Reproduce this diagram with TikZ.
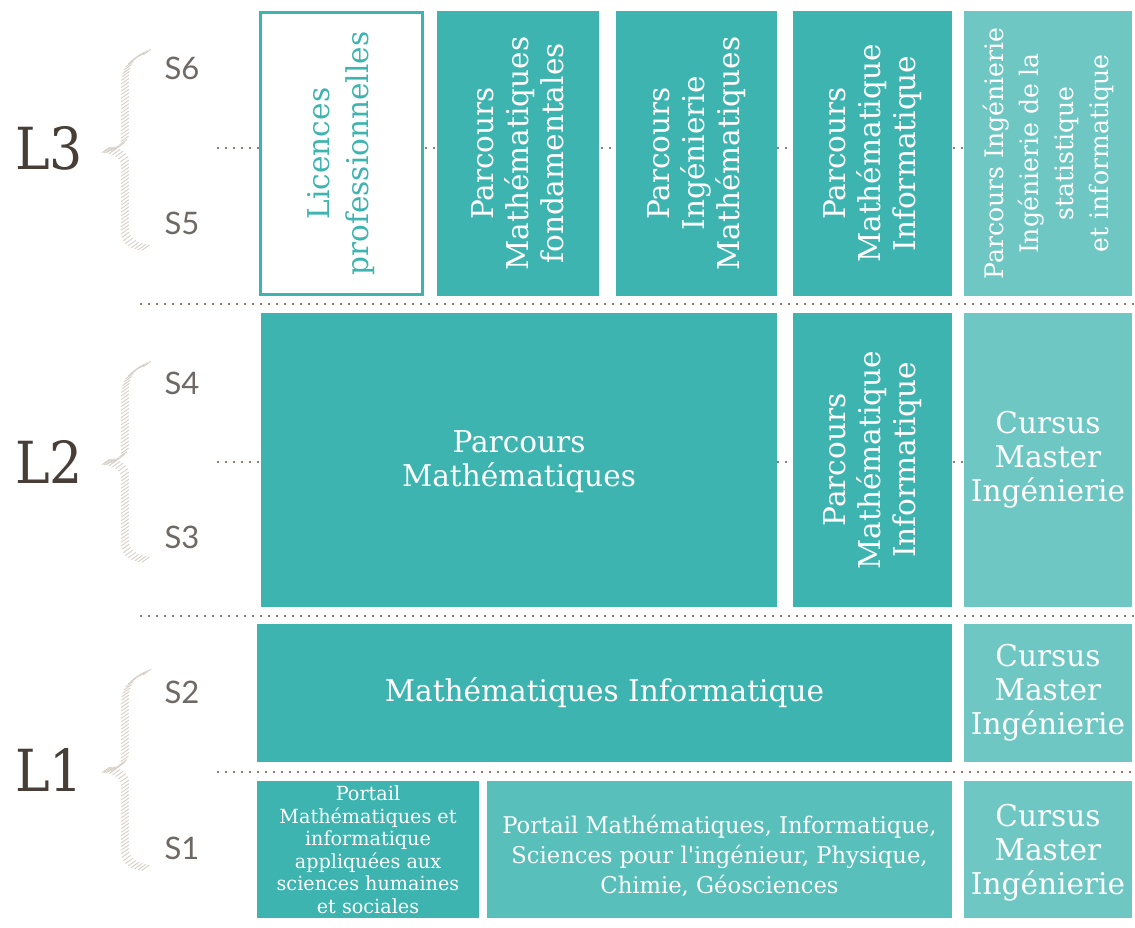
\documentclass[tikz,border=0pt]{standalone}
\usepackage{fontspec}
\setmainfont{DejaVu Serif}[FakeStretch=0.985]
\newfontfamily\narrowfont{DejaVu Serif}[FakeStretch=0.9]
\newfontfamily\semfont{Lato}
\usetikzlibrary{decorations.markings}
\definecolor{tealA}{HTML}{3DB4AF}
\definecolor{tealB}{HTML}{58BFBB}
\definecolor{tealC}{HTML}{6EC7C3}
\definecolor{dotc}{HTML}{8F7F74}
\definecolor{lvlc}{HTML}{463E37}
\definecolor{semc}{HTML}{6F6965}
\definecolor{hatchc}{HTML}{D8D0C8}
\begin{document}
\begin{tikzpicture}[x=1pt,y=-1pt,
 cell/.style={inner sep=0pt, outer sep=0pt},
 darkcell/.style={cell, fill=tealA},
 midcell/.style={cell, fill=tealB},
 lightcell/.style={cell, fill=tealC},
 boxtext/.style={text=white, align=center, font=\fontsize{30}{35}\selectfont, inner sep=0pt},
 vtext/.style={boxtext, rotate=90},
 dotline/.style={draw=dotc, line width=1.6pt, dash pattern=on 1.8pt off 6.2pt, line cap=butt},
 level/.style={text=lvlc, font=\narrowfont\fontsize{58}{58}\selectfont, inner sep=0pt},
 sem/.style={text=semc, font=\semfont\fontsize{31}{31}\selectfont, inner sep=0pt},
 hatchbrace/.style={decoration={markings, mark=between positions 0 and 1 step 3.6pt with {\pgftransformresetnontranslations \draw[hatchc, line width=0.9pt] (-3.8,2.7)--(3.8,-2.7);}}, decorate}
]
\useasboundingbox (0,0) rectangle (1135,928);
\fill[white] (0,0) rectangle (1135,928);

% dotted guide lines
\coordinate (d1a) at (140,304); \coordinate (d1b) at (1135,304);
\coordinate (d2a) at (140,616); \coordinate (d2b) at (1135,616);
\coordinate (m3a) at (217,148); \coordinate (m3b) at (1135,148);
\coordinate (m2a) at (217,462); \coordinate (m2b) at (1135,462);
\coordinate (m1a) at (217,772); \coordinate (m1b) at (1135,772);
\draw[dotline] (d1a) -- (d1b);
\draw[dotline] (d2a) -- (d2b);
\draw[dotline] (m3a) -- (m3b);
\draw[dotline] (m2a) -- (m2b);
\draw[dotline] (m1a) -- (m1b);

% braces
\foreach \c in {150,462,770}{
\path[hatchbrace, shift={(0,\c)}] (147,-98) .. controls (130,-92) and (125,-82) .. (125,-68) -- (125,-14) .. controls (125,-5) and (116,0) .. (105,0) .. controls (116,0) and (125,5) .. (125,14) -- (125,80) .. controls (125,90) and (132,96) .. (147,98);
}

% level labels
\node[level] (L3) at (49,148) {L3};
\node[level] (L2) at (49,462) {L2};
\node[level] (L1) at (49,770) {L1};
\node[sem] (S6) at (182,68) {S6};
\node[sem] (S5) at (182,223) {S5};
\node[sem] (S4) at (182,383) {S4};
\node[sem] (S3) at (182,537) {S3};
\node[sem] (S2) at (182,692) {S2};
\node[sem] (S1) at (182,848) {S1};

% L3 row
\node[cell, draw=tealA, line width=3pt, fill=white, minimum width=162pt, minimum height=282pt] (lic) at (341.5,153.5) {};
\node[vtext, text=tealA, font=\fontsize{30}{39}\selectfont] (lic-t) at (lic) {Licences\\professionnelles};
\node[darkcell, minimum width=162pt, minimum height=285pt] (pmf) at (518,153.5) {};
\node[vtext] (pmf-t) at (pmf) {Parcours\\Mathématiques\\fondamentales};
\node[darkcell, minimum width=161pt, minimum height=285pt] (pim) at (696.5,153.5) {};
\node[vtext] (pim-t) at (pim) {Parcours\\Ingénierie\\Mathématiques};
\node[darkcell, minimum width=159pt, minimum height=285pt] (pmi3) at (872.5,153.5) {};
\node[vtext] (pmi3-t) at (pmi3) {Parcours\\Mathématique\\Informatique};
\node[lightcell, minimum width=168pt, minimum height=285pt] (pii) at (1048,153.5) {};
\node[vtext, font=\fontsize{25.5}{35}\selectfont] (pii-t) at (pii) {Parcours Ingénierie\\Ingénierie de la\\statistique\\et informatique};

% L2 row
\node[darkcell, minimum width=516pt, minimum height=294pt] (pm) at (519,460) {};
\node[boxtext, font=\fontsize{30}{34}\selectfont] (pm-t) at ([yshift=-2pt]pm.center) {Parcours\\Mathématiques};
\node[darkcell, minimum width=159pt, minimum height=294pt] (pmi2) at (872.5,460) {};
\node[vtext] (pmi2-t) at (pmi2) {Parcours\\Mathématique\\Informatique};
\node[lightcell, minimum width=168pt, minimum height=294pt] (cmi2) at (1048,460) {};
\node[boxtext, font=\fontsize{30}{34}\selectfont] (cmi2-t) at (cmi2) {Cursus\\Master\\Ingénierie};

% L1 S2 row
\node[darkcell, minimum width=695pt, minimum height=138pt] (mi) at (604.5,693) {};
\node[boxtext] (mi-t) at (mi) {Mathématiques Informatique};
\node[lightcell, minimum width=168pt, minimum height=138pt] (cmi1) at (1048,693) {};
\node[boxtext, font=\fontsize{30}{34}\selectfont] (cmi1-t) at (cmi1) {Cursus\\Master\\Ingénierie};

% L1 S1 row
\node[darkcell, minimum width=222pt, minimum height=137pt] (por1) at (368,849.5) {};
\node[boxtext, font=\fontsize{19.5}{22.5}\selectfont] (por1-t) at (por1) {Portail\\Mathématiques et\\informatique\\appliquées aux\\sciences humaines\\et sociales};
\node[midcell, minimum width=465pt, minimum height=137pt] (por2) at (719.5,849.5) {};
\node[boxtext, font=\fontsize{23}{30}\selectfont] (por2-t) at ([yshift=-6pt]por2.center) {Portail Mathématiques, Informatique,\\Sciences pour l\textquotesingle ingénieur, Physique,\\Chimie, Géosciences};
\node[lightcell, minimum width=168pt, minimum height=137pt] (cmi0) at (1048,849.5) {};
\node[boxtext, font=\fontsize{30}{34}\selectfont] (cmi0-t) at ([yshift=-3pt]cmi0.center) {Cursus\\Master\\Ingénierie};
\end{tikzpicture}
\end{document}
